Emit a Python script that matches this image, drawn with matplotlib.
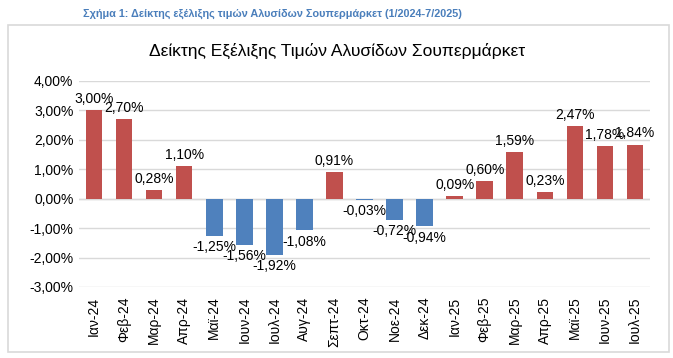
import matplotlib.pyplot as plt
from matplotlib.patches import Rectangle
from matplotlib.ticker import FuncFormatter

months = ['Ιαν-24', 'Φεβ-24', 'Μαρ-24', 'Απρ-24', 'Μαϊ-24', 'Ιουν-24', 'Ιουλ-24',
          'Αυγ-24', 'Σεπτ-24', 'Οκτ-24', 'Νοε-24', 'Δεκ-24', 'Ιαν-25', 'Φεβ-25',
          'Μαρ-25', 'Απρ-25', 'Μαϊ-25', 'Ιουν-25', 'Ιουλ-25']
values = [3.00, 2.70, 0.28, 1.10, -1.25, -1.56, -1.92, -1.08, 0.91, -0.03,
          -0.72, -0.94, 0.09, 0.60, 1.59, 0.23, 2.47, 1.78, 1.84]

red = '#C0504D'
blue = '#4F81BD'
narrow = ['Liberation Sans Narrow', 'Liberation Sans', 'DejaVu Sans']

fig = plt.figure(figsize=(6.73, 3.58), dpi=100)
fig.patches.append(Rectangle((8/673, 1-352/358), 661/673, 327/358,
                             transform=fig.transFigure, fill=False,
                             edgecolor='#D9D9D9', linewidth=1.2))
fig.text(272/673, 1-14/358, 'Σχήμα 1: Δείκτης εξέλιξης τιμών Αλυσίδων Σουπερμάρκετ (1/2024-7/2025)',
         ha='center', va='center', fontsize=7.8, fontweight='bold', color='#4A7EBB',
         family=['Liberation Sans', 'DejaVu Sans'])
fig.text(337/673, 1-51/358, 'Δείκτης Εξέλιξης Τιμών Αλυσίδων Σουπερμάρκετ',
         ha='center', va='center', fontsize=12.5, family=narrow)

ax = fig.add_axes([79/673, 1-287/358, 571/673, 206/358])
x = list(range(len(months)))
colors = [red if v >= 0 else blue for v in values]
ax.bar(x, values, width=0.55, color=colors, zorder=3)

for xi, v in zip(x, values):
    lab = ('%.2f%%' % v).replace('.', ',')
    if v >= 0:
        ax.annotate(lab, (xi, v), xytext=(0, 3), textcoords='offset points',
                    ha='center', va='bottom', fontsize=10, family=narrow)
    else:
        ax.annotate(lab, (xi, v), xytext=(0, -3), textcoords='offset points',
                    ha='center', va='top', fontsize=10, family=narrow)

ax.set_xlim(-0.5, len(months) - 0.5)
ax.set_ylim(-3, 4)
ax.set_yticks(range(-3, 5))
ax.yaxis.set_major_formatter(FuncFormatter(lambda v, p: ('%.2f%%' % v).replace('.', ',')))
ax.grid(axis='y', color='#D9D9D9', linewidth=1, zorder=0)
ax.axhline(0, color='#D9D9D9', linewidth=1, zorder=1)
for s in ax.spines.values():
    s.set_visible(False)
ax.tick_params(axis='y', length=0, labelsize=10, pad=4)
ax.set_xticks(x)
ax.set_xticklabels(months, rotation=90, fontsize=10, family=narrow)
ax.tick_params(axis='x', length=0, pad=7)
for t in ax.get_yticklabels():
    t.set_family(narrow)

fig.savefig('out.png', dpi=100)
